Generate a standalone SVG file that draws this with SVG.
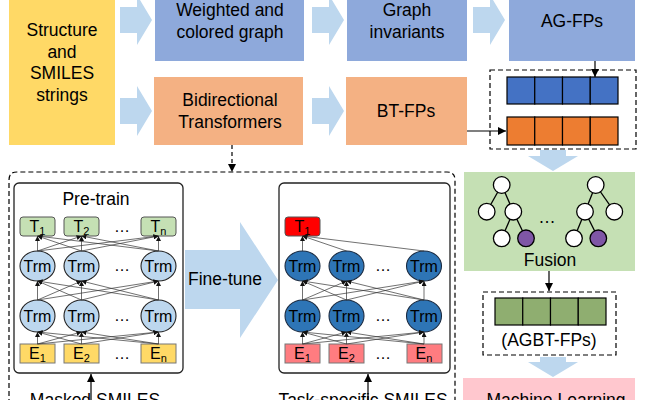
<svg xmlns="http://www.w3.org/2000/svg" width="646" height="400" viewBox="0 0 646 400">
<defs>
<style>
text{font-family:"Liberation Sans",Arial,sans-serif;fill:#000;text-anchor:middle}
.big{font-size:17.5px}
.trm{font-size:16px}
.lbl{font-size:16px}
.sub{font-size:11px}
.barr{fill:#BDD7EE}
.blue{fill:#8EA9DB}
.orng{fill:#F4B183}
.ln{stroke:#333;stroke-width:0.7;fill:none;marker-end:url(#sa)}
.arw{stroke:#000;stroke-width:1.2;fill:none;marker-end:url(#ah)}
.dash{stroke:#000;stroke-width:1.2;fill:none;stroke-dasharray:5,3}
.tgr{fill:#C5E0B4;stroke:#555;stroke-width:1}
.ey{fill:#FFD966;stroke:#777;stroke-width:1}
.ep{fill:#FF7C80;stroke:#777;stroke-width:1}
.tl{fill:#BDD7EE;stroke:#222;stroke-width:1.1}
.td{fill:#2E75B6;stroke:#1a2a40;stroke-width:1.1}
.cell{stroke:#000;stroke-width:1.2}
.node{fill:#fff;stroke:#000;stroke-width:1.3}
.pur{fill:#7F56A6;stroke:#000;stroke-width:1.3}
.edge{stroke:#000;stroke-width:1.3}
</style>
<marker id="ah" viewBox="0 0 8 8" refX="8" refY="4" markerWidth="8" markerHeight="8" markerUnits="userSpaceOnUse" orient="auto"><path d="M0,0 L8,4 L0,8 z" fill="#000"/></marker>
<marker id="sa" viewBox="0 0 6 6" refX="6" refY="3" markerWidth="5" markerHeight="5" markerUnits="userSpaceOnUse" orient="auto"><path d="M0,0 L6,3 L0,6 z" fill="#111"/></marker>
</defs>

<g id="block-arrows">
<polygon class="barr" points="120,7 137,7 137,-5 152,20 137,45 137,33 120,33"/>
<polygon class="barr" points="120,98 137,98 137,86 152,111 137,136 137,124 120,124"/>
<polygon class="barr" points="312,7 329,7 329,-5 344,20 329,45 329,33 312,33"/>
<polygon class="barr" points="473,7 490,7 490,-5 505,20 490,45 490,33 473,33"/>
<polygon class="barr" points="312,98 329,98 329,86 344,111 329,136 329,124 312,124"/>
<polygon class="barr" points="540,150 566,150 566,156 578,156 553,171 528,156 540,156"/>
<polygon class="barr" points="540,357 566,357 566,362 578,362 553,377 528,362 540,362"/>
<polygon class="barr" points="185,250 240,250 240,222 278,280 240,338 240,309 185,309"/>
<text class="big" x="225" y="285">Fine-tune</text>
</g>

<g id="input">
<rect x="9" y="0" width="106" height="145" fill="#FFD966"/>
<text class="big" x="62" y="36">Structure</text>
<text class="big" x="62" y="58">and</text>
<text class="big" x="62" y="79">SMILES</text>
<text class="big" x="62" y="101">strings</text>
</g>

<g id="weighted">
<rect x="155" y="0" width="149" height="61" class="blue"/>
<text class="big" x="230" y="16">Weighted and</text>
<text class="big" x="230" y="38">colored graph</text>
</g>

<g id="invariants">
<rect x="347" y="0" width="120" height="61" class="blue"/>
<text class="big" x="407" y="16">Graph</text>
<text class="big" x="407" y="38">invariants</text>
</g>

<g id="agfps">
<rect x="509" y="0" width="126" height="61" class="blue"/>
<text class="big" x="572" y="27">AG-FPs</text>
</g>

<g id="bidirectional">
<rect x="154" y="77" width="149" height="68" class="orng"/>
<text class="big" x="230" y="106">Bidirectional</text>
<text class="big" x="230" y="128">Transformers</text>
</g>

<g id="btfps">
<rect x="346" y="77" width="121" height="68" class="orng"/>
<text class="big" x="406" y="117">BT-FPs</text>
</g>

<g id="concat">
<rect x="490" y="70" width="146" height="79" class="dash"/>
<g fill="#4472C4">
<rect class="cell" x="507" y="77" width="27.75" height="27"/>
<rect class="cell" x="534.75" y="77" width="27.75" height="27"/>
<rect class="cell" x="562.5" y="77" width="27.75" height="27"/>
<rect class="cell" x="590.25" y="77" width="27.75" height="27"/>
</g>
<g fill="#ED7D31">
<rect class="cell" x="507" y="117" width="27.75" height="28"/>
<rect class="cell" x="534.75" y="117" width="27.75" height="28"/>
<rect class="cell" x="562.5" y="117" width="27.75" height="28"/>
<rect class="cell" x="590.25" y="117" width="27.75" height="28"/>
</g>
</g>

<g id="fusion">
<rect x="464" y="172" width="171" height="99" fill="#C5E0B4"/>
<line class="edge" x1="501.7" y1="185" x2="486.7" y2="211.7"/>
<line class="edge" x1="501.7" y1="185" x2="513.3" y2="211.7"/>
<line class="edge" x1="513.3" y1="211.7" x2="501.7" y2="238.3"/>
<line class="edge" x1="513.3" y1="211.7" x2="526" y2="238.3"/>
<line class="edge" x1="595.7" y1="185" x2="585" y2="211.7"/>
<line class="edge" x1="595.7" y1="185" x2="614.3" y2="211.7"/>
<line class="edge" x1="585" y1="211.7" x2="574" y2="238.3"/>
<line class="edge" x1="585" y1="211.7" x2="598.3" y2="238.3"/>
<circle class="node" cx="501.7" cy="185" r="8.3"/>
<circle class="node" cx="486.7" cy="211.7" r="8.3"/>
<circle class="node" cx="513.3" cy="211.7" r="8.3"/>
<circle class="node" cx="501.7" cy="238.3" r="8.3"/>
<circle class="pur" cx="526" cy="238.3" r="8.3"/>
<circle class="node" cx="595.7" cy="185" r="8.3"/>
<circle class="node" cx="585" cy="211.7" r="8.3"/>
<circle class="node" cx="614.3" cy="211.7" r="8.3"/>
<circle class="node" cx="574" cy="238.3" r="8.3"/>
<circle class="pur" cx="598.3" cy="238.3" r="8.3"/>
<text class="big" x="547" y="223">…</text>
<text class="big" x="550" y="266">Fusion</text>
</g>

<g id="agbt">
<rect x="483" y="292" width="133" height="63" class="dash"/>
<g fill="#8FAE70">
<rect class="cell" x="495" y="298" width="27.75" height="27"/>
<rect class="cell" x="522.75" y="298" width="27.75" height="27"/>
<rect class="cell" x="550.5" y="298" width="27.75" height="27"/>
<rect class="cell" x="578.25" y="298" width="27.75" height="27"/>
</g>
<text class="big" x="549" y="346">(AGBT-FPs)</text>
</g>

<g id="ml">
<rect x="463" y="378" width="172" height="30" fill="#FFC7CE"/>
<text class="big" x="556" y="406">Machine Learning</text>
</g>

<g id="bt-panel">
<path class="dash" d="M9,420 V180 Q9,172 17,172 H447 Q455,172 455,180 V420"/>
</g>

<g id="pretrain">
<rect x="14" y="183" width="169" height="190" rx="5" fill="#fff" stroke="#222" stroke-width="1.3"/>
<text class="big" x="96" y="205">Pre-train</text>
<rect class="tgr" x="20" y="217" width="35" height="19" rx="3"/>
<rect class="tgr" x="64" y="217" width="35" height="19" rx="3"/>
<rect class="tgr" x="141" y="217" width="35" height="19" rx="3"/>
<text class="lbl" x="37.5" y="232">T<tspan class="sub" dy="3">1</tspan></text>
<text class="lbl" x="81.5" y="232">T<tspan class="sub" dy="3">2</tspan></text>
<text class="lbl" x="158.5" y="232">T<tspan class="sub" dy="3">n</tspan></text>
<text class="lbl" x="122" y="232">…</text>
<ellipse class="tl" cx="37.5" cy="266" rx="17.5" ry="15"/>
<ellipse class="tl" cx="81.5" cy="266" rx="17.5" ry="15"/>
<ellipse class="tl" cx="158.5" cy="266" rx="17.5" ry="15"/>
<ellipse class="tl" cx="37.5" cy="316" rx="17.5" ry="16"/>
<ellipse class="tl" cx="81.5" cy="316" rx="17.5" ry="16"/>
<ellipse class="tl" cx="158.5" cy="316" rx="17.5" ry="16"/>
<text class="trm" x="37.5" y="271.5">Trm</text>
<text class="trm" x="81.5" y="271.5">Trm</text>
<text class="trm" x="158.5" y="271.5">Trm</text>
<text class="trm" x="37.5" y="321.5">Trm</text>
<text class="trm" x="81.5" y="321.5">Trm</text>
<text class="trm" x="158.5" y="321.5">Trm</text>
<text class="lbl" x="122" y="271">…</text>
<text class="lbl" x="122" y="321">…</text>
<rect class="ey" x="20" y="344" width="35" height="19"/>
<rect class="ey" x="64" y="344" width="35" height="19"/>
<rect class="ey" x="141" y="344" width="35" height="19"/>
<text class="lbl" x="37.5" y="359">E<tspan class="sub" dy="3">1</tspan></text>
<text class="lbl" x="81.5" y="359">E<tspan class="sub" dy="3">2</tspan></text>
<text class="lbl" x="158.5" y="359">E<tspan class="sub" dy="3">n</tspan></text>
<text class="lbl" x="122" y="359">…</text>
<text class="big" x="95" y="406">Masked SMILES</text>
</g>

<g id="finetune">
<rect x="279" y="183" width="171" height="190" rx="5" fill="#fff" stroke="#222" stroke-width="1.3"/>
<rect x="285" y="217" width="35" height="19" rx="3" fill="#FF0000" stroke="#555" stroke-width="1"/>
<text class="lbl" x="302.5" y="232">T<tspan class="sub" dy="3">1</tspan></text>
<ellipse class="td" cx="302.5" cy="266" rx="17.5" ry="15"/>
<ellipse class="td" cx="346.5" cy="266" rx="17.5" ry="15"/>
<ellipse class="td" cx="424" cy="266" rx="17.5" ry="15"/>
<ellipse class="td" cx="302.5" cy="316" rx="17.5" ry="16"/>
<ellipse class="td" cx="346.5" cy="316" rx="17.5" ry="16"/>
<ellipse class="td" cx="424" cy="316" rx="17.5" ry="16"/>
<text class="trm" x="302.5" y="271.5">Trm</text>
<text class="trm" x="346.5" y="271.5">Trm</text>
<text class="trm" x="424" y="271.5">Trm</text>
<text class="trm" x="302.5" y="321.5">Trm</text>
<text class="trm" x="346.5" y="321.5">Trm</text>
<text class="trm" x="424" y="321.5">Trm</text>
<text class="lbl" x="383" y="271">…</text>
<text class="lbl" x="383" y="321">…</text>
<rect class="ep" x="285" y="344" width="35" height="19"/>
<rect class="ep" x="329" y="344" width="35" height="19"/>
<rect class="ep" x="407" y="344" width="35" height="19"/>
<text class="lbl" x="302.5" y="359">E<tspan class="sub" dy="3">1</tspan></text>
<text class="lbl" x="346.5" y="359">E<tspan class="sub" dy="3">2</tspan></text>
<text class="lbl" x="424" y="359">E<tspan class="sub" dy="3">n</tspan></text>
<text class="lbl" x="383" y="359">…</text>
<text class="big" x="363" y="406">Task-specific SMILES</text>
</g>

<g id="connectors">
<line class="arw" x1="467" y1="131" x2="506" y2="131"/>
<line class="arw" x1="595" y1="61" x2="595" y2="77"/>
<line class="arw" x1="549" y1="271" x2="549" y2="291"/>
<line class="arw" x1="232" y1="145" x2="232" y2="172" stroke-dasharray="4,3"/>
<line class="arw" x1="91" y1="400" x2="91" y2="374"/>
<line class="arw" x1="368" y1="400" x2="368" y2="374"/>
<line class="ln" x1="37.5" y1="251" x2="37.5" y2="236"/>
<line class="ln" x1="37.5" y1="251" x2="81.5" y2="236"/>
<line class="ln" x1="37.5" y1="251" x2="158.5" y2="236"/>
<line class="ln" x1="81.5" y1="251" x2="37.5" y2="236"/>
<line class="ln" x1="81.5" y1="251" x2="81.5" y2="236"/>
<line class="ln" x1="81.5" y1="251" x2="158.5" y2="236"/>
<line class="ln" x1="158.5" y1="251" x2="37.5" y2="236"/>
<line class="ln" x1="158.5" y1="251" x2="81.5" y2="236"/>
<line class="ln" x1="158.5" y1="251" x2="158.5" y2="236"/>
<line class="ln" x1="37.5" y1="300" x2="37.5" y2="281"/>
<line class="ln" x1="37.5" y1="300" x2="81.5" y2="281"/>
<line class="ln" x1="37.5" y1="300" x2="158.5" y2="281"/>
<line class="ln" x1="81.5" y1="300" x2="37.5" y2="281"/>
<line class="ln" x1="81.5" y1="300" x2="81.5" y2="281"/>
<line class="ln" x1="81.5" y1="300" x2="158.5" y2="281"/>
<line class="ln" x1="158.5" y1="300" x2="37.5" y2="281"/>
<line class="ln" x1="158.5" y1="300" x2="81.5" y2="281"/>
<line class="ln" x1="158.5" y1="300" x2="158.5" y2="281"/>
<line class="ln" x1="37.5" y1="344" x2="37.5" y2="332"/>
<line class="ln" x1="37.5" y1="344" x2="81.5" y2="332"/>
<line class="ln" x1="37.5" y1="344" x2="158.5" y2="332"/>
<line class="ln" x1="81.5" y1="344" x2="37.5" y2="332"/>
<line class="ln" x1="81.5" y1="344" x2="81.5" y2="332"/>
<line class="ln" x1="81.5" y1="344" x2="158.5" y2="332"/>
<line class="ln" x1="158.5" y1="344" x2="37.5" y2="332"/>
<line class="ln" x1="158.5" y1="344" x2="81.5" y2="332"/>
<line class="ln" x1="158.5" y1="344" x2="158.5" y2="332"/>
<line class="ln" x1="302.5" y1="251" x2="302.5" y2="236"/>
<line class="ln" x1="346.5" y1="251" x2="302.5" y2="236"/>
<line class="ln" x1="424" y1="251" x2="302.5" y2="236"/>
<line class="ln" x1="302.5" y1="300" x2="302.5" y2="281"/>
<line class="ln" x1="302.5" y1="300" x2="346.5" y2="281"/>
<line class="ln" x1="302.5" y1="300" x2="424" y2="281"/>
<line class="ln" x1="346.5" y1="300" x2="302.5" y2="281"/>
<line class="ln" x1="346.5" y1="300" x2="346.5" y2="281"/>
<line class="ln" x1="346.5" y1="300" x2="424" y2="281"/>
<line class="ln" x1="424" y1="300" x2="302.5" y2="281"/>
<line class="ln" x1="424" y1="300" x2="346.5" y2="281"/>
<line class="ln" x1="424" y1="300" x2="424" y2="281"/>
<line class="ln" x1="302.5" y1="344" x2="302.5" y2="332"/>
<line class="ln" x1="302.5" y1="344" x2="346.5" y2="332"/>
<line class="ln" x1="302.5" y1="344" x2="424" y2="332"/>
<line class="ln" x1="346.5" y1="344" x2="302.5" y2="332"/>
<line class="ln" x1="346.5" y1="344" x2="346.5" y2="332"/>
<line class="ln" x1="346.5" y1="344" x2="424" y2="332"/>
<line class="ln" x1="424" y1="344" x2="302.5" y2="332"/>
<line class="ln" x1="424" y1="344" x2="346.5" y2="332"/>
<line class="ln" x1="424" y1="344" x2="424" y2="332"/>
</g>
</svg>
